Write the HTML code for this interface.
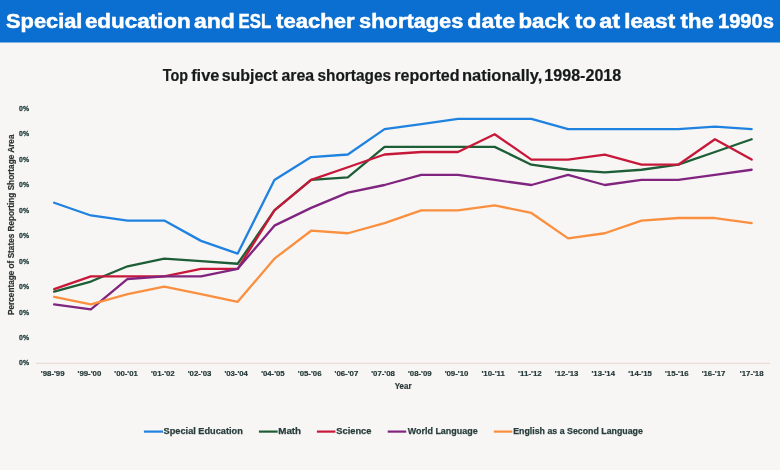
<!DOCTYPE html>
<html><head><meta charset="utf-8"><style>
html,body{margin:0;padding:0;background:#f7f6f4;width:780px;height:470px;overflow:hidden;font-family:"Liberation Sans",sans-serif;}
svg{display:block;will-change:transform;}
</style></head><body>
<svg width="780" height="470" viewBox="0 0 780 470">
<g>
<rect x="0" y="0" width="780" height="470" fill="#f7f6f4"/>
<rect x="0" y="0" width="780" height="42.5" fill="#0a6fd0"/>
<text x="6.05" y="27.60" font-family="Liberation Sans, sans-serif" font-weight="bold" font-size="20" fill="#ffffff" textLength="76.32" lengthAdjust="spacingAndGlyphs" stroke="#ffffff" stroke-width="0.5">Special</text>
<text x="84.90" y="27.60" font-family="Liberation Sans, sans-serif" font-weight="bold" font-size="20" fill="#ffffff" textLength="105.70" lengthAdjust="spacingAndGlyphs" stroke="#ffffff" stroke-width="0.5">education</text>
<text x="194.01" y="27.60" font-family="Liberation Sans, sans-serif" font-weight="bold" font-size="20" fill="#ffffff" textLength="40.85" lengthAdjust="spacingAndGlyphs" stroke="#ffffff" stroke-width="0.5">and</text>
<text x="238.52" y="27.60" font-family="Liberation Sans, sans-serif" font-weight="bold" font-size="20" fill="#ffffff" textLength="32.69" lengthAdjust="spacingAndGlyphs" stroke="#ffffff" stroke-width="0.5">ESL</text>
<text x="276.08" y="27.60" font-family="Liberation Sans, sans-serif" font-weight="bold" font-size="20" fill="#ffffff" textLength="78.51" lengthAdjust="spacingAndGlyphs" stroke="#ffffff" stroke-width="0.5">teacher</text>
<text x="359.13" y="27.60" font-family="Liberation Sans, sans-serif" font-weight="bold" font-size="20" fill="#ffffff" textLength="104.23" lengthAdjust="spacingAndGlyphs" stroke="#ffffff" stroke-width="0.5">shortages</text>
<text x="467.37" y="27.60" font-family="Liberation Sans, sans-serif" font-weight="bold" font-size="20" fill="#ffffff" textLength="47.67" lengthAdjust="spacingAndGlyphs" stroke="#ffffff" stroke-width="0.5">date</text>
<text x="518.44" y="27.60" font-family="Liberation Sans, sans-serif" font-weight="bold" font-size="20" fill="#ffffff" textLength="50.74" lengthAdjust="spacingAndGlyphs" stroke="#ffffff" stroke-width="0.5">back</text>
<text x="575.08" y="27.60" font-family="Liberation Sans, sans-serif" font-weight="bold" font-size="20" fill="#ffffff" textLength="20.89" lengthAdjust="spacingAndGlyphs" stroke="#ffffff" stroke-width="0.5">to</text>
<text x="599.29" y="27.60" font-family="Liberation Sans, sans-serif" font-weight="bold" font-size="20" fill="#ffffff" textLength="20.92" lengthAdjust="spacingAndGlyphs" stroke="#ffffff" stroke-width="0.5">at</text>
<text x="624.23" y="27.60" font-family="Liberation Sans, sans-serif" font-weight="bold" font-size="20" fill="#ffffff" textLength="50.98" lengthAdjust="spacingAndGlyphs" stroke="#ffffff" stroke-width="0.5">least</text>
<text x="680.58" y="27.60" font-family="Liberation Sans, sans-serif" font-weight="bold" font-size="20" fill="#ffffff" textLength="33.08" lengthAdjust="spacingAndGlyphs" stroke="#ffffff" stroke-width="0.5">the</text>
<text x="718.00" y="27.60" font-family="Liberation Sans, sans-serif" font-weight="bold" font-size="20" fill="#ffffff" textLength="55.82" lengthAdjust="spacingAndGlyphs" stroke="#ffffff" stroke-width="0.5">1990s</text>
<text x="162.66" y="80.50" font-family="Liberation Sans, sans-serif" font-weight="bold" font-size="16.5" fill="#161a1a" textLength="25.30" lengthAdjust="spacingAndGlyphs" stroke="#161a1a" stroke-width="0.2">Top</text>
<text x="191.17" y="80.50" font-family="Liberation Sans, sans-serif" font-weight="bold" font-size="16.5" fill="#161a1a" textLength="28.27" lengthAdjust="spacingAndGlyphs" stroke="#161a1a" stroke-width="0.2">five</text>
<text x="221.66" y="80.50" font-family="Liberation Sans, sans-serif" font-weight="bold" font-size="16.5" fill="#161a1a" textLength="55.92" lengthAdjust="spacingAndGlyphs" stroke="#161a1a" stroke-width="0.2">subject</text>
<text x="281.42" y="80.50" font-family="Liberation Sans, sans-serif" font-weight="bold" font-size="16.5" fill="#161a1a" textLength="32.74" lengthAdjust="spacingAndGlyphs" stroke="#161a1a" stroke-width="0.2">area</text>
<text x="317.48" y="80.50" font-family="Liberation Sans, sans-serif" font-weight="bold" font-size="16.5" fill="#161a1a" textLength="73.52" lengthAdjust="spacingAndGlyphs" stroke="#161a1a" stroke-width="0.2">shortages</text>
<text x="394.27" y="80.50" font-family="Liberation Sans, sans-serif" font-weight="bold" font-size="16.5" fill="#161a1a" textLength="65.29" lengthAdjust="spacingAndGlyphs" stroke="#161a1a" stroke-width="0.2">reported</text>
<text x="461.94" y="80.50" font-family="Liberation Sans, sans-serif" font-weight="bold" font-size="16.5" fill="#161a1a" textLength="80.43" lengthAdjust="spacingAndGlyphs" stroke="#161a1a" stroke-width="0.2">nationally,</text>
<text x="544.34" y="80.50" font-family="Liberation Sans, sans-serif" font-weight="bold" font-size="16.5" fill="#161a1a" textLength="76.88" lengthAdjust="spacingAndGlyphs" stroke="#161a1a" stroke-width="0.2">1998-2018</text>
<text transform="translate(13.9,314.4) rotate(-90)" x="-0.58" y="0.00" font-family="Liberation Sans, sans-serif" font-weight="bold" font-size="8.6" fill="#2b3333" textLength="180.46" lengthAdjust="spacingAndGlyphs" stroke="#2b3333" stroke-width="0.2">Percentage of States Reporting Shortage Area</text>
<text x="19.12" y="365.40" font-family="Liberation Sans, sans-serif" font-weight="bold" font-size="7.4" fill="#1f3b3b" textLength="9.95" lengthAdjust="spacingAndGlyphs" stroke="#1f3b3b" stroke-width="0.3">0%</text>
<text x="19.12" y="339.95" font-family="Liberation Sans, sans-serif" font-weight="bold" font-size="7.4" fill="#1f3b3b" textLength="9.95" lengthAdjust="spacingAndGlyphs" stroke="#1f3b3b" stroke-width="0.3">0%</text>
<text x="19.12" y="314.50" font-family="Liberation Sans, sans-serif" font-weight="bold" font-size="7.4" fill="#1f3b3b" textLength="9.95" lengthAdjust="spacingAndGlyphs" stroke="#1f3b3b" stroke-width="0.3">0%</text>
<text x="19.12" y="289.05" font-family="Liberation Sans, sans-serif" font-weight="bold" font-size="7.4" fill="#1f3b3b" textLength="9.95" lengthAdjust="spacingAndGlyphs" stroke="#1f3b3b" stroke-width="0.3">0%</text>
<text x="19.12" y="263.60" font-family="Liberation Sans, sans-serif" font-weight="bold" font-size="7.4" fill="#1f3b3b" textLength="9.95" lengthAdjust="spacingAndGlyphs" stroke="#1f3b3b" stroke-width="0.3">0%</text>
<text x="19.12" y="238.15" font-family="Liberation Sans, sans-serif" font-weight="bold" font-size="7.4" fill="#1f3b3b" textLength="9.95" lengthAdjust="spacingAndGlyphs" stroke="#1f3b3b" stroke-width="0.3">0%</text>
<text x="19.12" y="212.70" font-family="Liberation Sans, sans-serif" font-weight="bold" font-size="7.4" fill="#1f3b3b" textLength="9.95" lengthAdjust="spacingAndGlyphs" stroke="#1f3b3b" stroke-width="0.3">0%</text>
<text x="19.12" y="187.25" font-family="Liberation Sans, sans-serif" font-weight="bold" font-size="7.4" fill="#1f3b3b" textLength="9.95" lengthAdjust="spacingAndGlyphs" stroke="#1f3b3b" stroke-width="0.3">0%</text>
<text x="19.12" y="161.80" font-family="Liberation Sans, sans-serif" font-weight="bold" font-size="7.4" fill="#1f3b3b" textLength="9.95" lengthAdjust="spacingAndGlyphs" stroke="#1f3b3b" stroke-width="0.3">0%</text>
<text x="19.12" y="136.35" font-family="Liberation Sans, sans-serif" font-weight="bold" font-size="7.4" fill="#1f3b3b" textLength="9.95" lengthAdjust="spacingAndGlyphs" stroke="#1f3b3b" stroke-width="0.3">0%</text>
<text x="19.12" y="110.90" font-family="Liberation Sans, sans-serif" font-weight="bold" font-size="7.4" fill="#1f3b3b" textLength="9.95" lengthAdjust="spacingAndGlyphs" stroke="#1f3b3b" stroke-width="0.3">0%</text>
<line x1="35.8" y1="363.3" x2="770.0" y2="363.3" stroke="#eadcd4" stroke-width="1.2"/>
<text x="40.87" y="375.60" font-family="Liberation Sans, sans-serif" font-weight="bold" font-size="7.9" fill="#1f3333" textLength="23.65" lengthAdjust="spacingAndGlyphs" stroke="#1f3333" stroke-width="0.2">'98-'99</text>
<text x="77.57" y="375.60" font-family="Liberation Sans, sans-serif" font-weight="bold" font-size="7.9" fill="#1f3333" textLength="23.73" lengthAdjust="spacingAndGlyphs" stroke="#1f3333" stroke-width="0.2">'99-'00</text>
<text x="114.29" y="375.60" font-family="Liberation Sans, sans-serif" font-weight="bold" font-size="7.9" fill="#1f3333" textLength="23.57" lengthAdjust="spacingAndGlyphs" stroke="#1f3333" stroke-width="0.2">'00-'01</text>
<text x="150.99" y="375.60" font-family="Liberation Sans, sans-serif" font-weight="bold" font-size="7.9" fill="#1f3333" textLength="23.73" lengthAdjust="spacingAndGlyphs" stroke="#1f3333" stroke-width="0.2">'01-'02</text>
<text x="187.71" y="375.60" font-family="Liberation Sans, sans-serif" font-weight="bold" font-size="7.9" fill="#1f3333" textLength="23.65" lengthAdjust="spacingAndGlyphs" stroke="#1f3333" stroke-width="0.2">'02-'03</text>
<text x="224.42" y="375.60" font-family="Liberation Sans, sans-serif" font-weight="bold" font-size="7.9" fill="#1f3333" textLength="23.41" lengthAdjust="spacingAndGlyphs" stroke="#1f3333" stroke-width="0.2">'03-'04</text>
<text x="261.13" y="375.60" font-family="Liberation Sans, sans-serif" font-weight="bold" font-size="7.9" fill="#1f3333" textLength="23.57" lengthAdjust="spacingAndGlyphs" stroke="#1f3333" stroke-width="0.2">'04-'05</text>
<text x="297.84" y="375.60" font-family="Liberation Sans, sans-serif" font-weight="bold" font-size="7.9" fill="#1f3333" textLength="23.65" lengthAdjust="spacingAndGlyphs" stroke="#1f3333" stroke-width="0.2">'05-'06</text>
<text x="334.54" y="375.60" font-family="Liberation Sans, sans-serif" font-weight="bold" font-size="7.9" fill="#1f3333" textLength="23.73" lengthAdjust="spacingAndGlyphs" stroke="#1f3333" stroke-width="0.2">'06-'07</text>
<text x="371.26" y="375.60" font-family="Liberation Sans, sans-serif" font-weight="bold" font-size="7.9" fill="#1f3333" textLength="23.65" lengthAdjust="spacingAndGlyphs" stroke="#1f3333" stroke-width="0.2">'07-'08</text>
<text x="407.97" y="375.60" font-family="Liberation Sans, sans-serif" font-weight="bold" font-size="7.9" fill="#1f3333" textLength="23.65" lengthAdjust="spacingAndGlyphs" stroke="#1f3333" stroke-width="0.2">'08-'09</text>
<text x="444.67" y="375.60" font-family="Liberation Sans, sans-serif" font-weight="bold" font-size="7.9" fill="#1f3333" textLength="23.73" lengthAdjust="spacingAndGlyphs" stroke="#1f3333" stroke-width="0.2">'09-'10</text>
<text x="481.38" y="375.60" font-family="Liberation Sans, sans-serif" font-weight="bold" font-size="7.9" fill="#1f3333" textLength="23.62" lengthAdjust="spacingAndGlyphs" stroke="#1f3333" stroke-width="0.2">'10-'11</text>
<text x="518.09" y="375.60" font-family="Liberation Sans, sans-serif" font-weight="bold" font-size="7.9" fill="#1f3333" textLength="23.70" lengthAdjust="spacingAndGlyphs" stroke="#1f3333" stroke-width="0.2">'11-'12</text>
<text x="554.81" y="375.60" font-family="Liberation Sans, sans-serif" font-weight="bold" font-size="7.9" fill="#1f3333" textLength="23.65" lengthAdjust="spacingAndGlyphs" stroke="#1f3333" stroke-width="0.2">'12-'13</text>
<text x="591.52" y="375.60" font-family="Liberation Sans, sans-serif" font-weight="bold" font-size="7.9" fill="#1f3333" textLength="23.41" lengthAdjust="spacingAndGlyphs" stroke="#1f3333" stroke-width="0.2">'13-'14</text>
<text x="628.23" y="375.60" font-family="Liberation Sans, sans-serif" font-weight="bold" font-size="7.9" fill="#1f3333" textLength="23.57" lengthAdjust="spacingAndGlyphs" stroke="#1f3333" stroke-width="0.2">'14-'15</text>
<text x="664.94" y="375.60" font-family="Liberation Sans, sans-serif" font-weight="bold" font-size="7.9" fill="#1f3333" textLength="23.65" lengthAdjust="spacingAndGlyphs" stroke="#1f3333" stroke-width="0.2">'15-'16</text>
<text x="701.64" y="375.60" font-family="Liberation Sans, sans-serif" font-weight="bold" font-size="7.9" fill="#1f3333" textLength="23.73" lengthAdjust="spacingAndGlyphs" stroke="#1f3333" stroke-width="0.2">'16-'17</text>
<text x="739.86" y="375.60" font-family="Liberation Sans, sans-serif" font-weight="bold" font-size="7.9" fill="#1f3333" textLength="23.65" lengthAdjust="spacingAndGlyphs" stroke="#1f3333" stroke-width="0.2">'17-'18</text>
<text x="394.74" y="388.90" font-family="Liberation Sans, sans-serif" font-weight="bold" font-size="8.4" fill="#2b3838" textLength="16.76" lengthAdjust="spacingAndGlyphs" stroke="#2b3838" stroke-width="0.2">Year</text>
<polyline points="54.16,202.78 90.87,215.48 127.58,220.56 164.28,220.56 201.00,240.88 237.71,253.58 274.41,179.92 311.12,157.06 347.84,154.52 384.54,129.12 421.25,124.04 457.97,118.96 494.67,118.96 531.38,118.96 568.10,129.12 604.80,129.12 641.51,129.12 678.23,129.12 714.93,126.58 751.64,129.12" fill="none" stroke="#1f82e0" stroke-width="2.3" stroke-linejoin="round" stroke-linecap="round"/>
<polyline points="54.16,291.68 90.87,281.52 127.58,266.28 164.28,258.66 201.00,261.20 237.71,263.74 274.41,210.40 311.12,179.92 347.84,177.38 384.54,146.90 421.25,146.90 457.97,146.90 494.67,146.90 531.38,164.68 568.10,169.76 604.80,172.30 641.51,169.76 678.23,164.68 714.93,151.98 751.64,139.28" fill="none" stroke="#1d5e37" stroke-width="2.3" stroke-linejoin="round" stroke-linecap="round"/>
<polyline points="54.16,289.14 90.87,276.44 127.58,276.44 164.28,276.44 201.00,268.82 237.71,268.82 274.41,210.40 311.12,179.92 347.84,167.22 384.54,154.52 421.25,151.98 457.97,151.98 494.67,134.20 531.38,159.60 568.10,159.60 604.80,154.52 641.51,164.68 678.23,164.68 714.93,139.28 751.64,159.60" fill="none" stroke="#c8183a" stroke-width="2.3" stroke-linejoin="round" stroke-linecap="round"/>
<polyline points="54.16,304.38 90.87,309.46 127.58,278.98 164.28,276.44 201.00,276.44 237.71,268.82 274.41,225.64 311.12,207.86 347.84,192.62 384.54,185.00 421.25,174.84 457.97,174.84 494.67,179.92 531.38,185.00 568.10,174.84 604.80,185.00 641.51,179.92 678.23,179.92 714.93,174.84 751.64,169.76" fill="none" stroke="#80247f" stroke-width="2.3" stroke-linejoin="round" stroke-linecap="round"/>
<polyline points="54.16,296.76 90.87,304.38 127.58,294.22 164.28,286.60 201.00,294.22 237.71,301.84 274.41,258.66 311.12,230.72 347.84,233.26 384.54,223.10 421.25,210.40 457.97,210.40 494.67,205.32 531.38,212.94 568.10,238.34 604.80,233.26 641.51,220.56 678.23,218.02 714.93,218.02 751.64,223.10" fill="none" stroke="#fa8f3f" stroke-width="2.3" stroke-linejoin="round" stroke-linecap="round"/>
<line x1="143.9" y1="431.6" x2="163.0" y2="431.6" stroke="#1f82e0" stroke-width="2.2"/>
<text x="163.62" y="434.30" font-family="Liberation Sans, sans-serif" font-weight="bold" font-size="9.2" fill="#283d3d" textLength="79.16" lengthAdjust="spacingAndGlyphs" stroke="#283d3d" stroke-width="0.25">Special Education</text>
<line x1="258.9" y1="431.6" x2="277.7" y2="431.6" stroke="#1d5e37" stroke-width="2.2"/>
<text x="278.21" y="434.30" font-family="Liberation Sans, sans-serif" font-weight="bold" font-size="9.2" fill="#283d3d" textLength="22.91" lengthAdjust="spacingAndGlyphs" stroke="#283d3d" stroke-width="0.25">Math</text>
<line x1="316.9" y1="431.6" x2="335.4" y2="431.6" stroke="#c8183a" stroke-width="2.2"/>
<text x="336.22" y="434.30" font-family="Liberation Sans, sans-serif" font-weight="bold" font-size="9.2" fill="#283d3d" textLength="35.26" lengthAdjust="spacingAndGlyphs" stroke="#283d3d" stroke-width="0.25">Science</text>
<line x1="387.7" y1="431.6" x2="406.2" y2="431.6" stroke="#80247f" stroke-width="2.2"/>
<text x="407.70" y="434.30" font-family="Liberation Sans, sans-serif" font-weight="bold" font-size="9.2" fill="#283d3d" textLength="70.01" lengthAdjust="spacingAndGlyphs" stroke="#283d3d" stroke-width="0.25">World Language</text>
<line x1="493.8" y1="431.6" x2="512.3" y2="431.6" stroke="#fa8f3f" stroke-width="2.2"/>
<text x="513.18" y="434.30" font-family="Liberation Sans, sans-serif" font-weight="bold" font-size="9.2" fill="#283d3d" textLength="129.73" lengthAdjust="spacingAndGlyphs" stroke="#283d3d" stroke-width="0.25">English as a Second Language</text>
</g>
</svg>
</body></html>
